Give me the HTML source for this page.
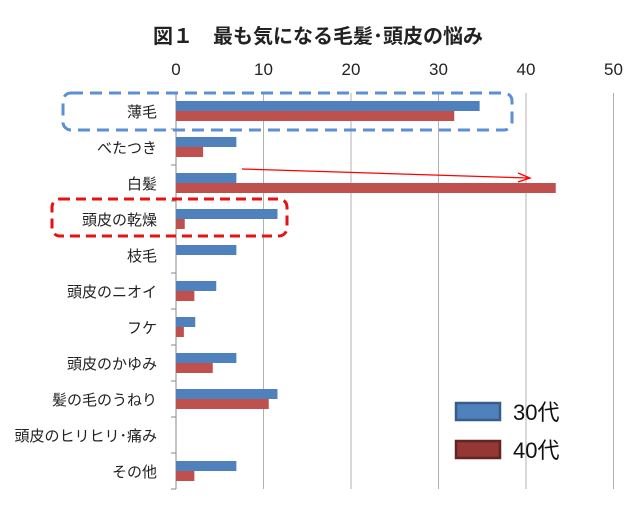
<!DOCTYPE html>
<html><head><meta charset="utf-8"><style>
body{margin:0;background:#fff;}
svg text{font-family:"Liberation Sans","Noto Sans CJK JP",sans-serif;}
</style></head><body>
<svg id="c" width="630" height="520" xmlns="http://www.w3.org/2000/svg">
<text x="318" y="43" text-anchor="middle" font-size="20" font-weight="bold" fill="#222">図１　最も気になる毛髪･頭皮の悩み</text>
<g id="grid"></g><g id="bars"></g><g id="labels"></g>
<rect x="63" y="93" width="449" height="37" rx="8" fill="none" stroke="#5b8fd6" stroke-width="3" stroke-dasharray="12,7"/>
<rect x="52" y="199" width="235" height="37" rx="8" fill="none" stroke="#e81010" stroke-width="3" stroke-dasharray="10,6"/>
<line x1="242" y1="169" x2="528" y2="178" stroke="#f00" stroke-width="1.3"/>
<polyline points="518,173 530,178 518,182" fill="none" stroke="#f00" stroke-width="1.3"/>
<g>
<rect x="456" y="403" width="44" height="17" fill="#4f81bd" stroke="#385d8a" stroke-width="2.5"/>
<text x="513" y="420" font-size="22" fill="#111">30代</text>
<rect x="456" y="441" width="44" height="17" fill="#953735" stroke="#632523" stroke-width="2.5"/>
<text x="513" y="458" font-size="22" fill="#111">40代</text>
</g>
</svg>
<script>
const categories=["薄毛","べたつき","白髪","頭皮の乾燥","枝毛","頭皮のニオイ","フケ","頭皮のかゆみ","髪の毛のうねり","頭皮のヒリヒリ･痛み","その他"];
const values30=[34.7,6.9,6.9,11.6,6.9,4.6,2.2,6.9,11.6,0,6.9];
const values40=[31.8,3.1,43.4,1.0,0,2.1,0.9,4.2,10.6,0,2.1];
const ticks=[0,10,20,30,40,50];
const NS="http://www.w3.org/2000/svg";
const x0=176,pxPer=8.75,plotTop=93,band=36;
const xs=v=>x0+v*pxPer, yb=i=>plotTop+i*band;
function mk(t,a,p){const e=document.createElementNS(NS,t);for(const k in a)e.setAttribute(k,a[k]);p.appendChild(e);return e;}
const g=document.getElementById('grid'),b=document.getElementById('bars'),l=document.getElementById('labels');
ticks.forEach(t=>{
 const ln=mk('line',{x1:xs(t),x2:xs(t),y1:plotTop,y2:plotTop+band*categories.length,stroke:t===0?'#888':'#b0b0b0','stroke-width':1},g);
 
 
 const tx=mk('text',{x:xs(t),y:75,'text-anchor':'middle','font-size':17,fill:'#222'},g);tx.textContent=t;
 
 
});
categories.forEach((c,i)=>{
 const tk=mk('line',{x1:x0-5,x2:x0,y1:yb(i+1),y2:yb(i+1),stroke:'#888'},g);
 
 
 const cy=yb(i)+band/2;
 const r1=mk('rect',{x:x0,y:cy-10,width:values30[i]*pxPer,height:10,fill:'#4f81bd'},b);
 
 
 const r2=mk('rect',{x:x0,y:cy,width:values40[i]*pxPer,height:10,fill:'#c0504d'},b);
 
 
 const tx=mk('text',{x:157,y:cy+6,'text-anchor':'end','font-size':15,fill:'#222'},l);tx.textContent=c;
 
 
});
</script>
</body></html>
